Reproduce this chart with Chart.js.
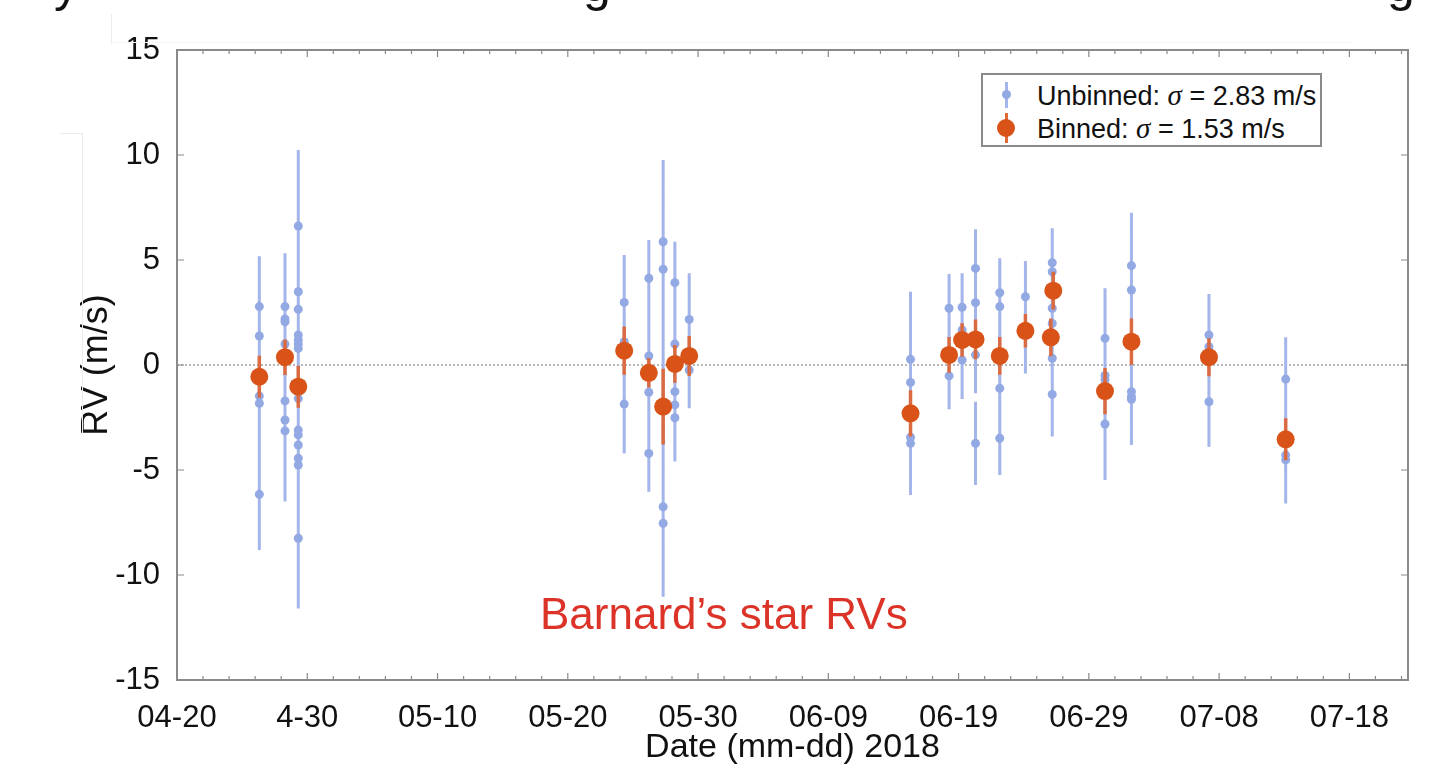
<!DOCTYPE html>
<html>
<head>
<meta charset="utf-8">
<title>Barnard's star RVs</title>
<script src="https://cdn.jsdelivr.net/npm/chart.js@4/dist/chart.umd.min.js"></script>
<style>
    body { margin: 0; background: #fff; font-family: 'Liberation Sans', Arial, sans-serif; }
    #wrap { position: relative; width: 1454px; height: 776px; overflow: hidden; background: #fff; }
    #chart { position: absolute; left: 0; top: 0; }
    .frag { position: absolute; top: -41px; font-size: 50px; line-height: 50px; color: #111; }
    .faint { position: absolute; background: #ececec; }
    #legend { position: absolute; left: 981px; top: 73px; width: 337px; height: 70px; border: 2px solid #8a8a8a; background: #fff; color: #111; font-size: 27px; }
    #legend .row { position: absolute; left: 54px; line-height: 30px; white-space: nowrap; }
    #legend .row i { font-family: 'Liberation Serif', 'DejaVu Serif', serif; font-size: 29px; }
    .mk-line { position: absolute; }
    .mk-dot { position: absolute; border-radius: 50%; }
    #note { position: absolute; left: 540px; top: 589px; font-size: 44px; line-height: 50px; color: #dc3328; white-space: nowrap; }
</style>
</head>
<body>
<div id="wrap">
    <canvas id="chart" width="1454" height="776"></canvas>

    <!-- descenders of a text line cut off above the figure -->
    <span class="frag" style="left:54px">y</span>
    <span class="frag" style="left:583px">g</span>
    <span class="frag" style="left:1387px">g</span>
    <div class="faint" style="left:111px; top:14px; width:1px; height:30px"></div>
    <div class="faint" style="left:111px; top:42px; width:1240px; height:1px; background:#f4f4f4"></div>
    <div class="faint" style="left:60px; top:133px; width:22px; height:1px"></div>
    <div class="faint" style="left:82px; top:133px; width:1px; height:300px"></div>

    <div id="legend">
        <div class="mk-line" style="left:22px; top:7px; width:3px; height:26px; background:#a3b5ea"></div>
        <div class="mk-dot" style="left:19px; top:15px; width:9px; height:9px; background:#93a9e4"></div>
        <div class="row" style="top:5px">Unbinned: <i>σ</i> = 2.83 m/s</div>
        <div class="mk-line" style="left:22px; top:38px; width:3px; height:30px; background:#de6a3a"></div>
        <div class="mk-dot" style="left:14px; top:44px; width:18px; height:18px; background:#d95319"></div>
        <div class="row" style="top:38px">Binned: <i>σ</i> = 1.53 m/s</div>
    </div>

    <div id="note">Barnard’s star RVs</div>
</div>

<script>
// --- Data (x = days since 2018-04-20) ---
const xTickValues = [0, 10, 20, 30, 40, 50, 60, 70, 80, 90];
const xTickLabels = ['04-20', '4-30', '05-10', '05-20', '05-30', '06-09', '06-19', '06-29', '07-08', '07-18'];
const yTickValues = [-15, -10, -5, 0, 5, 10, 15];

// unbinned RVs, one list per night
const nightDay = [6.32, 8.29, 9.31, 34.33, 36.22, 37.32, 38.22, 39.32, 56.31, 59.27, 60.27, 61.3, 63.16, 65.13, 67.19, 71.24, 73.27, 79.22, 85.11];
const nightRV = [
    [2.78, 1.38, -1.48, -1.83, -6.16],
    [2.78, 2.19, 2.06, 1.0, -1.71, -2.62, -3.14],
    [6.62, 3.49, 2.65, 1.43, 1.19, 1.0, 0.79, -1.6, -3.1, -3.33, -3.81, -4.44, -4.76, -8.25],
    [2.98, 1.11, 0.87, -1.86],
    [4.13, 0.43, -1.3, -4.21],
    [5.87, 4.56, -2.0, -6.75, -7.54],
    [3.92, 1.0, -1.27, -1.9, -2.51],
    [2.17, 0.2, -0.24],
    [0.27, -0.83, -3.44, -3.73],
    [2.7, 0.4, -0.52],
    [2.75, 1.67, 0.24],
    [4.6, 2.97, 0.48, -3.73],
    [3.44, 2.78, 0.4, -1.11, -3.49],
    [3.25, 1.4],
    [4.87, 4.44, 2.7, 1.98, 0.32, -1.4],
    [1.27, -0.5, -0.7, -2.81],
    [4.73, 3.57, -1.27, -1.51, -1.63],
    [1.43, 0.87, -1.75],
    [-0.67, -4.29, -4.52]
];
const nightErr = [
    [2.4, 2.5, 2.5, 2.5, 2.65],
    [2.54, 2.5, 2.5, 2.5, 2.5, 2.5, 3.36],
    [3.62, 3.4, 3.4, 3.4, 3.4, 3.4, 3.4, 3.4, 3.4, 3.4, 3.4, 3.4, 3.4, 3.35],
    [2.26, 2.3, 2.3, 2.35],
    [1.82, 1.9, 1.8, 1.82],
    [3.89, 3.7, 3.7, 3.7, 3.5],
    [1.95, 2.0, 2.0, 2.0, 2.09],
    [2.2, 1.9, 1.82],
    [3.22, 2.9, 2.6, 2.46],
    [1.63, 1.6, 1.59],
    [1.62, 1.7, 1.86],
    [1.86, 1.9, 1.83, 1.98],
    [1.64, 1.7, 1.7, 1.75, 1.75],
    [1.7, 1.8],
    [1.64, 1.7, 1.8, 1.8, 1.8, 2.01],
    [2.38, 2.4, 2.4, 2.67],
    [2.52, 2.5, 2.4, 2.2, 2.18],
    [1.95, 1.9, 2.14],
    [1.99, 2.1, 2.08]
];

// binned RVs
const binnedDay = [6.32, 8.29, 9.31, 34.33, 36.22, 37.32, 38.22, 39.32, 56.31, 59.27, 60.27, 61.3, 63.16, 65.13, 67.08, 67.27, 71.24, 73.27, 79.22, 85.11];
const binnedRV = [-0.56, 0.37, -1.03, 0.68, -0.37, -1.98, 0.05, 0.43, -2.3, 0.48, 1.19, 1.22, 0.43, 1.63, 1.32, 3.54, -1.24, 1.11, 0.37, -3.54];
const binnedErr = [1.0, 0.85, 1.0, 1.15, 0.7, 1.8, 0.9, 0.95, 1.1, 0.85, 0.8, 0.95, 0.9, 0.8, 0.9, 0.9, 1.1, 1.1, 0.9, 1.0];

const BLUE = '#93a9e4';
const BLUE_BAR = '#a3b5ea';
const ORANGE = '#d95319';
const ORANGE_BAR = 'rgba(222,100,50,0.92)';
const AXIS = '#8a8a8a';

// --- Build datasets ---
const unbinnedPts = [];
const unbinnedErrs = [];
nightDay.forEach((d, i) => {
    nightRV[i].forEach((v, j) => {
        unbinnedPts.push({ x: d, y: v });
        unbinnedErrs.push(nightErr[i][j]);
    });
});
const binnedPts = binnedDay.map((d, i) => ({ x: d, y: binnedRV[i] }));

// --- Plugins ---
const errorBars = {
    id: 'errorBars',
    beforeDatasetDraw(chart, args) {
        const ds = chart.data.datasets[args.index];
        if (!ds.errors) return;
        const { ctx, scales: { x, y } } = chart;
        ctx.save();
        ctx.strokeStyle = ds.errColor;
        ctx.lineWidth = ds.errWidth;
        ctx.beginPath();
        ds.data.forEach((p, i) => {
            const px = x.getPixelForValue(p.x);
            ctx.moveTo(px, y.getPixelForValue(p.y + ds.errors[i]));
            ctx.lineTo(px, y.getPixelForValue(p.y - ds.errors[i]));
        });
        ctx.stroke();
        ctx.restore();
    }
};

const boxAxes = {
    id: 'boxAxes',
    beforeDatasetsDraw(chart) {
        const { ctx, chartArea: a, scales: { x, y } } = chart;
        ctx.save();
        // dotted zero line
        ctx.strokeStyle = '#a0a0a0';
        ctx.lineWidth = 1.5;
        ctx.setLineDash([2, 2]);
        ctx.beginPath();
        ctx.moveTo(a.left, y.getPixelForValue(0));
        ctx.lineTo(a.right, y.getPixelForValue(0));
        ctx.stroke();
        ctx.setLineDash([]);

        // box
        ctx.strokeStyle = AXIS;
        ctx.lineWidth = 2;
        ctx.strokeRect(a.left, a.top, a.right - a.left, a.bottom - a.top);

        // inward ticks
        ctx.lineWidth = 1.2;
        ctx.beginPath();
        for (let d = 2; d < x.max; d += 2) {
            const px = x.getPixelForValue(d);
            const len = d % 10 === 0 ? 7 : 4;
            ctx.moveTo(px, a.bottom); ctx.lineTo(px, a.bottom - len);
            ctx.moveTo(px, a.top); ctx.lineTo(px, a.top + len);
        }
        yTickValues.forEach(v => {
            const py = y.getPixelForValue(v);
            ctx.moveTo(a.left, py); ctx.lineTo(a.left + 7, py);
            ctx.moveTo(a.right, py); ctx.lineTo(a.right - 7, py);
        });
        ctx.stroke();
        ctx.restore();
    }
};

// --- Chart ---
Chart.defaults.font.family = "'Liberation Sans', Arial, sans-serif";
Chart.defaults.color = '#111';

new Chart(document.getElementById('chart'), {
    type: 'scatter',
    data: {
        datasets: [
            {
                label: 'Binned',
                data: binnedPts,
                errors: binnedErr,
                errColor: ORANGE_BAR,
                errWidth: 3.5,
                backgroundColor: ORANGE,
                borderWidth: 0,
                pointRadius: 9,
                order: 0
            },
            {
                label: 'Unbinned',
                data: unbinnedPts,
                errors: unbinnedErrs,
                errColor: BLUE_BAR,
                errWidth: 3,
                backgroundColor: BLUE,
                borderWidth: 0,
                pointRadius: 4.5,
                order: 1
            }
        ]
    },
    options: {
        responsive: false,
        animation: false,
        layout: { padding: { top: 50, right: 46, left: 0, bottom: 0 } },
        plugins: { legend: { display: false }, tooltip: { enabled: false } },
        scales: {
            x: {
                type: 'linear',
                min: 0,
                max: 94.5,
                afterBuildTicks: s => { s.ticks = xTickValues.map(v => ({ value: v })); },
                afterFit: s => { s.height = 96; },
                grid: { display: false },
                border: { display: false },
                ticks: {
                    font: { size: 31 },
                    color: '#111',
                    padding: 12,
                    maxRotation: 0,
                    autoSkip: false,
                    callback: v => xTickLabels[xTickValues.indexOf(v)]
                },
                title: { display: true, text: 'Date (mm-dd) 2018', font: { size: 34 }, color: '#111', padding: { top: 0, bottom: 8 } }
            },
            y: {
                min: -15,
                max: 15,
                afterBuildTicks: s => { s.ticks = yTickValues.map(v => ({ value: v })); },
                afterFit: s => { s.width = 177; },
                grid: { display: false },
                border: { display: false },
                ticks: { font: { size: 31 }, color: '#111', padding: 9 },
                title: { display: true, text: 'RV (m/s)', font: { size: 36 }, color: '#111', padding: { top: 75, bottom: 0 } }
            }
        }
    },
    plugins: [errorBars, boxAxes]
});
</script>
</body>
</html>
